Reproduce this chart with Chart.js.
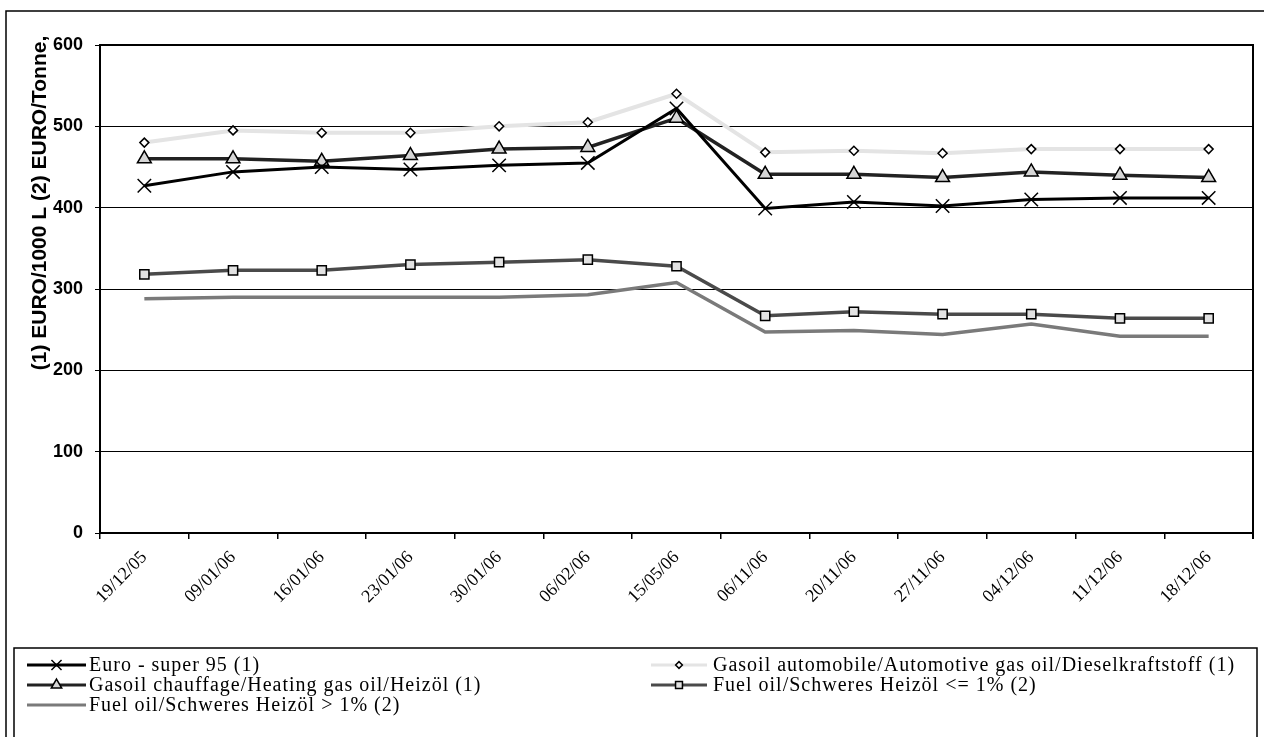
<!DOCTYPE html>
<html>
<head>
<meta charset="utf-8">
<script src="https://cdn.jsdelivr.net/npm/chart.js@4"></script>
<style>
html,body{margin:0;padding:0;background:#fff;}
#wrap{width:1264px;height:737px;position:relative;overflow:hidden;}
</style>
</head>
<body>
<div id="wrap"><canvas id="c" width="1264" height="737"></canvas></div>
<script>
const categories = ['19/12/05','09/01/06','16/01/06','23/01/06','30/01/06','06/02/06','15/05/06','06/11/06','20/11/06','27/11/06','04/12/06','11/12/06','18/12/06'];
const euroSuper95   = [427,444,450,447,452,455,522,399,407,402,410,412,412];
const gasoilAuto    = [480,495,492,492,500,505,540,468,470,467,472,472,472];
const gasoilHeating = [460,460,457,464,472,474,510,441,441,437,444,440,437];
const fuelOilLow    = [318,323,323,330,333,336,328,267,272,269,269,264,264];
const fuelOilHigh   = [288,290,290,290,290,293,308,247,249,244,257,242,242];
const yTicks = [0,100,200,300,400,500,600];
const yTitle = '(1) EURO/1000 L (2) EURO/Tonne,';
const seriesNames = [
  'Euro - super 95 (1)',
  'Gasoil automobile/Automotive gas oil/Dieselkraftstoff (1)',
  'Gasoil chauffage/Heating gas oil/Heizöl (1)',
  'Fuel oil/Schweres Heizöl <= 1% (2)',
  'Fuel oil/Schweres Heizöl > 1% (2)'
];

const datasets = [
  {label: seriesNames[0], data: euroSuper95, borderColor:'#000000', borderWidth:3,
   pointStyle:'crossRot', pointRadius:9.5, pointBorderColor:'#000', pointBackgroundColor:'#000', pointBorderWidth:1.5, order:1},
  {label: seriesNames[1], data: gasoilAuto, borderColor:'#e4e4e4', borderWidth:4,
   pointStyle:'rectRot', pointRadius:4.5, pointBorderColor:'#000', pointBackgroundColor:'#fff', pointBorderWidth:1.5, order:5},
  {label: seriesNames[2], data: gasoilHeating, borderColor:'#222222', borderWidth:3.5,
   pointStyle:'triangle', pointRadius:8, pointBorderColor:'#000', pointBackgroundColor:'#d6d6d6', pointBorderWidth:1.5, order:2},
  {label: seriesNames[3], data: fuelOilLow, borderColor:'#4a4a4a', borderWidth:3.5,
   pointStyle:'rect', pointRadius:6.5, pointBorderColor:'#000', pointBackgroundColor:'#e2e2e2', pointBorderWidth:1.5, order:3},
  {label: seriesNames[4], data: fuelOilHigh, borderColor:'#7a7a7a', borderWidth:3.5,
   pointRadius:0, pointStyle:false, order:4}
];
datasets.forEach(d => { d.tension = 0; d.fill = false; d.pointHoverRadius = d.pointRadius; });

const legendCols = {start:[27, 651], end:[86, 707], text:[89, 713]};
const legendRows = {first:665, step:20};

const decor = {
  id:'decor',
  afterDraw(chart){
    const ctx = chart.ctx, a = chart.chartArea;
    ctx.save();
    // outer frame
    ctx.strokeStyle = '#000'; ctx.lineWidth = 1.5;
    ctx.beginPath(); ctx.moveTo(6, 740); ctx.lineTo(6, 11); ctx.lineTo(1270, 11); ctx.stroke();
    // plot frame
    ctx.lineWidth = 2;
    ctx.beginPath(); ctx.moveTo(a.left, a.top); ctx.lineTo(a.right, a.top); ctx.lineTo(a.right, a.bottom + 6); ctx.stroke();
    // y title
    ctx.save();
    ctx.translate(46, 203); ctx.rotate(-Math.PI/2);
    ctx.font = 'bold 21px "Liberation Sans", Arial, sans-serif';
    ctx.fillStyle = '#000'; ctx.textAlign = 'center'; ctx.textBaseline = 'alphabetic';
    ctx.fillText(yTitle, 0, 0);
    ctx.restore();
    // legend box
    ctx.lineWidth = 1.5; ctx.strokeStyle = '#000';
    ctx.strokeRect(14, 648, 1243, 120);
    ctx.font = '20px "Liberation Serif", "Times New Roman", serif';
    try { ctx.letterSpacing = '1px'; } catch(e) {}
    ctx.textBaseline = 'middle'; ctx.textAlign = 'left';
    chart.data.datasets.forEach((ds, i) => {
      const col = i % 2, row = Math.floor(i / 2);
      const y = legendRows.first + row * legendRows.step;
      const x0 = legendCols.start[col], x1 = legendCols.end[col];
      ctx.strokeStyle = ds.borderColor; ctx.lineWidth = 3;
      ctx.beginPath(); ctx.moveTo(x0, y); ctx.lineTo(x1, y); ctx.stroke();
      if (ds.pointStyle) {
        ctx.save();
        ctx.fillStyle = ds.pointBackgroundColor; ctx.strokeStyle = ds.pointBorderColor; ctx.lineWidth = 1.5;
        Chart.helpers.drawPoint(ctx, {pointStyle: ds.pointStyle, radius: ds.pointRadius * 0.75, borderWidth: 1.5, rotation: 0}, (x0 + x1) / 2, y);
        ctx.restore();
      }
      ctx.fillStyle = '#000';
      ctx.fillText(ds.label, legendCols.text[col], y + 1);
    });
    ctx.restore();
  }
};

new Chart(document.getElementById('c'), {
  type:'line',
  data:{labels: categories, datasets: datasets},
  options:{
    responsive:false, animation:false, devicePixelRatio:1,
    layout:{padding:{top:45, right:8, bottom:94, left:0}},
    plugins:{legend:{display:false}, tooltip:{enabled:false}, title:{display:false}},
    scales:{
      x:{
        type:'category', offset:true,
        grid:{offset:true, drawOnChartArea:false, drawTicks:true, tickLength:6, color:'#000', lineWidth:1.5},
        border:{color:'#000', width:2},
        ticks:{maxRotation:45, minRotation:45, autoSkip:false, padding:8, color:'#000',
               font:{family:'"Liberation Serif", "Times New Roman", serif', size:18}},
        afterFit(scale){ scale.height = 110; }
      },
      y:{
        min:0, max:600,
        afterBuildTicks(scale){ scale.ticks = yTicks.map(v => ({value:v})); },
        grid:{color:'#000', lineWidth:1, drawTicks:true, tickLength:5},
        border:{color:'#000', width:2},
        ticks:{padding:12, color:'#000', font:{family:'"Liberation Sans", Arial, sans-serif', size:18, weight:'bold'}},
        afterFit(scale){ scale.width = 100; }
      }
    }
  },
  plugins:[decor]
});
</script>
</body>
</html>
